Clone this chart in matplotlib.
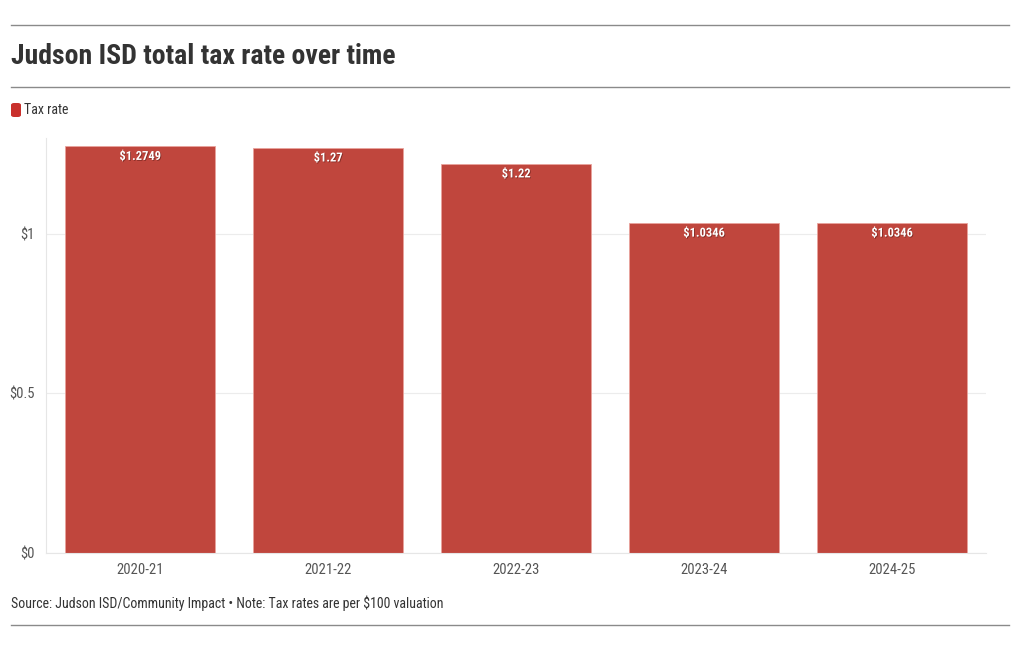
import matplotlib.pyplot as plt
import matplotlib.patheffects as pe
from matplotlib.patches import FancyBboxPatch

plt.rcParams["font.family"] = ["Roboto Condensed", "Liberation Sans Narrow", "DejaVu Sans Condensed", "DejaVu Sans"]

# --- data ---
years = ["2020-21", "2021-22", "2022-23", "2023-24", "2024-25"]
tax_rate = [1.2749, 1.27, 1.22, 1.0346, 1.0346]
y_ticks = [0, 0.5, 1]

bar_color = "#c0463d"

fig = plt.figure(figsize=(10.2, 6.5), dpi=100)
ax = fig.add_axes([0.0451, 0.1492, 0.9216, 0.6385])

x = range(len(years))
ax.bar(x, tax_rate, width=0.8, color=bar_color, edgecolor="#e9a39c", linewidth=0.6, zorder=2)

# value labels inside bar tops
for i, v in enumerate(tax_rate):
    ax.annotate(f"${v:g}", (i, v), xytext=(0, -7.5), textcoords="offset points",
                ha="center", va="center", color="white", fontsize=9, fontweight="bold",
                path_effects=[pe.withSimplePatchShadow(offset=(0.6, -0.6), shadow_rgbFace="#5a1a16", alpha=0.6)],
                zorder=3)

ax.set_xlim(-0.5, len(years) - 0.5)
ax.set_ylim(0, 1.3)
ax.set_xticks(list(x))
ax.set_xticklabels(years)
ax.set_yticks(y_ticks)
ax.set_yticklabels([f"${t:g}" for t in y_ticks])
ax.tick_params(length=0, colors="#555555", labelsize=10.5)
ax.tick_params(axis="y", pad=8)
ax.tick_params(axis="x", pad=7)
ax.grid(axis="y", color="#ececec", linewidth=0.8, zorder=0)
for side in ["top", "right"]:
    ax.spines[side].set_visible(False)
ax.spines["left"].set_color("#e6e6e6")
ax.spines["bottom"].set_color("#e6e6e6")
ax.spines["left"].set_linewidth(0.8)
ax.spines["bottom"].set_linewidth(0.8)

# rules
for yy in [625 / 650, 87 / 650, 25 / 650]:
    fig.add_artist(plt.Line2D([11 / 1020, 1009 / 1020], [1 - yy, 1 - yy], color="#8a8a8a", linewidth=1))

fig.text(11 / 1020, 1 - 57 / 650, "Judson ISD total tax rate over time", fontsize=20,
         fontweight="bold", color="#333333", va="center", ha="left")

# legend
fig.add_artist(FancyBboxPatch((11 / 1020, 1 - 117 / 650), 10 / 1020, 14 / 650,
                              boxstyle="round,pad=0,rounding_size=0.003",
                              facecolor="#c9302c", edgecolor="none", transform=fig.transFigure))
fig.text(24 / 1020, 1 - 110 / 650, "Tax rate", fontsize=10, color="#333333", va="center", ha="left")

fig.text(11 / 1020, 1 - 603 / 650, "Source: Judson ISD/Community Impact \u2022 Note: Tax rates are per $100 valuation",
         fontsize=10, color="#333333", va="center", ha="left")

fig.savefig("out.png", dpi=100)
